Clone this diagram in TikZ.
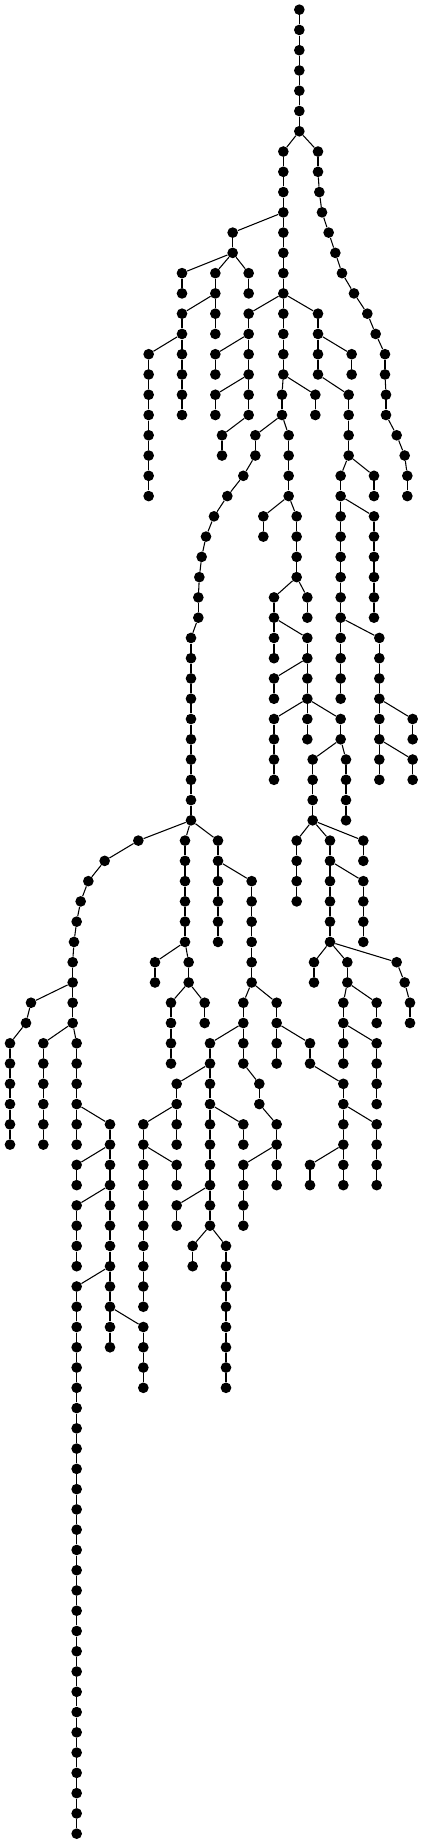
\documentclass[tikz,border=0pt]{standalone}
\begin{document}
\begin{tikzpicture}[x=0.25pt,y=-15.2pt,
  dot/.style={circle,fill=black,inner sep=0pt,minimum size=8pt},
  link/.style={black,line width=0.8pt}]
  \useasboundingbox (0,-0.477) rectangle (1269,90.51);
  % root
  \node[dot] (n898-0) at (898,0) {};
  % nodes that branch off (x/row/parent)
  \def\branches{850/7/898-6, 954/7/898-6,
    958/9/954-8, 966/10/958-9, 986/11/966-10, 1006/12/986-11, 1026/13/1006-12,
    1062/14/1026-13, 1102/15/1062-14, 1127/16/1102-15, 1155/17/1127-16,
    1158/19/1155-18, 1190/21/1158-20, 1214/22/1190-21, 1222/23/1214-22,
    698/11/850-10, 546/13/698-12, 646/13/698-12, 746/13/698-12,
    546/15/646-14, 446/17/546-16,
    746/15/850-14, 646/17/746-16, 646/19/746-18, 666/21/746-20,
    954/15/850-14, 846/19/850-18, 946/19/850-18, 766/21/846-20, 866/21/846-20,
    1055/17/954-16, 1046/19/954-18, 1022/23/1046-22, 1122/23/1046-22,
    1122/25/1022-24, 1138/31/1022-30, 1238/35/1138-34, 1238/37/1138-36,
    730/23/766-22, 682/24/730-23, 642/25/682-24, 618/26/642-25, 605/27/618-26,
    598/28/605-27, 595/29/598-28, 573/31/595-30,
    790/25/866-24, 890/25/866-24, 822/29/890-28, 922/29/890-28, 922/31/822-30,
    822/33/922-32, 822/35/922-34, 1022/35/922-34,
    938/37/1022-36, 1038/37/1022-36, 890/41/938-40, 990/41/938-40, 1090/41/938-40,
    1090/43/990-42, 942/47/990-46, 1042/47/990-46, 1190/47/990-46,
    1214/48/1190-47, 1230/49/1214-48,
    1030/49/1042-48, 1130/49/1042-48, 1130/51/1030-50, 1030/53/930-52,
    1130/55/1030-54, 930/57/1030-56,
    415/41/573-40, 314/42/415-41, 265/43/314-42, 242/44/265-43, 230/45/242-44,
    222/46/230-45, 218/47/222-46,
    93/49/218-48, 78/50/93-49, 30/51/78-50, 130/51/218-50, 230/51/218-50,
    330/55/230-54, 230/57/330-56, 230/59/330-58, 230/63/330-62, 430/65/330-64,
    555/41/573-40, 465/47/555-46, 566/47/555-46, 513/49/566-48, 614/49/566-48,
    654/41/573-40, 755/43/654-42, 730/49/755-48, 830/49/755-48, 630/51/730-50,
    930/51/830-50, 530/53/630-52, 778/53/730-52, 430/55/530-54, 730/55/630-54,
    830/55/778-54, 530/57/430-56, 730/57/830-56, 530/59/630-58, 578/61/630-60,
    678/61/630-60}
  \foreach \x/\r/\p in \branches
    \node[dot] (n\x-\r) at (\x,\r) {};
  % straight runs down from a node (x/first row/last row)
  \foreach \x/\a/\b in {898/0/6, 850/7/18, 954/7/8, 1155/17/18, 1158/19/20, 1222/23/24,
    698/11/12, 546/13/14, 646/13/16, 746/13/14, 546/15/20, 446/17/24,
    746/15/20, 646/17/18, 646/19/20, 666/21/22,
    954/15/18, 846/19/20, 946/19/20, 766/21/22, 866/21/24,
    1055/17/18, 1046/19/22, 1022/23/34, 1122/23/24, 1122/25/30, 1138/31/38,
    1238/35/36, 1238/37/38, 595/29/30, 573/31/40,
    790/25/26, 890/25/28, 822/29/32, 922/29/30, 922/31/36, 822/33/34, 822/35/38,
    1022/35/36, 938/37/40, 1038/37/40, 890/41/44, 990/41/46, 1090/41/42, 1090/43/46,
    942/47/48, 1042/47/48, 1230/49/50, 1030/49/52, 1130/49/50, 1130/51/54,
    1030/53/58, 1130/55/58, 930/57/58,
    218/47/50, 30/51/56, 130/51/56, 230/51/56, 330/55/66, 230/57/58, 230/59/62,
    230/63/90, 430/65/68,
    555/41/46, 465/47/48, 566/47/48, 513/49/52, 614/49/50,
    654/41/46, 755/43/48, 730/49/52, 830/49/52, 630/51/60, 930/51/52,
    530/53/56, 778/53/54, 430/55/64, 730/55/56, 830/55/58, 530/57/58, 730/57/60,
    530/59/60, 578/61/62, 678/61/68} {
    \pgfmathtruncatemacro\s{\a+1}
    \foreach \r in {\s,...,\b} {
      \pgfmathtruncatemacro\q{\r-1}
      \node[dot] (n\x-\r) at (\x,\r) {};
      \draw[link] (n\x-\q) -- (n\x-\r);
    }
  }
  % links to the branching nodes
  \foreach \x/\r/\p in \branches
    \draw[link] (n\p) -- (n\x-\r);
\end{tikzpicture}
\end{document}
